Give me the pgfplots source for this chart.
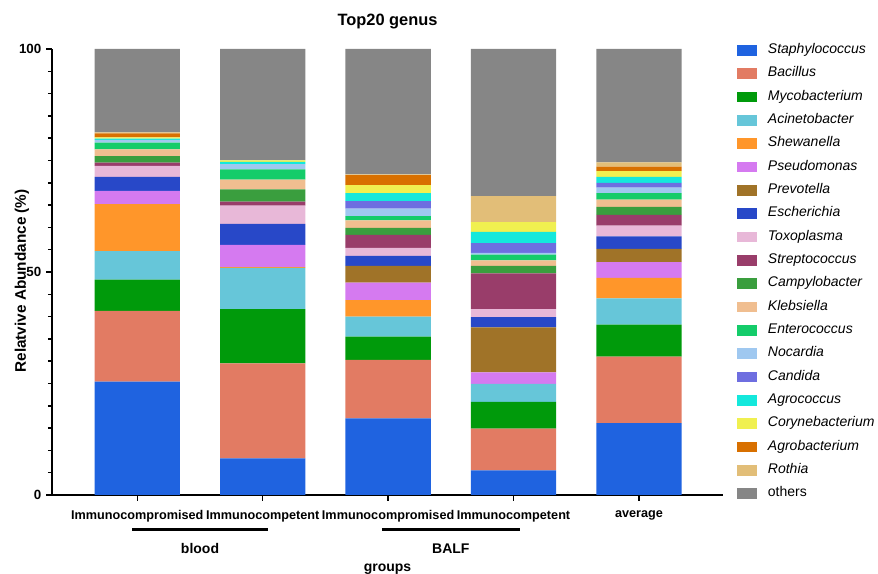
\documentclass[border=0pt]{standalone}
\usepackage{fontspec}
\setmainfont{Liberation Sans}
\usepackage{pgfplots}
\usepackage{pgfplotstable}
\pgfplotsset{compat=1.18}

\definecolor{cStaph}{HTML}{1F63E0}
\definecolor{cBac}{HTML}{E27B63}
\definecolor{cMyco}{HTML}{009A0B}
\definecolor{cAcin}{HTML}{66C6D9}
\definecolor{cShew}{HTML}{FF962A}
\definecolor{cPseu}{HTML}{D57AF0}
\definecolor{cPrev}{HTML}{A07328}
\definecolor{cEsch}{HTML}{2848C8}
\definecolor{cToxo}{HTML}{E8B8D8}
\definecolor{cStrep}{HTML}{993D6A}
\definecolor{cCampy}{HTML}{3A9E3E}
\definecolor{cKleb}{HTML}{F0BE90}
\definecolor{cEntero}{HTML}{14CC6A}
\definecolor{cNoca}{HTML}{9FC8F0}
\definecolor{cCand}{HTML}{6E6EE0}
\definecolor{cAgroc}{HTML}{14E8DC}
\definecolor{cCoryne}{HTML}{F0F050}
\definecolor{cAgrob}{HTML}{D87000}
\definecolor{cRoth}{HTML}{E2BE78}
\definecolor{cOthers}{HTML}{868686}

\pgfplotstableread{
x Staph Bac Myco Acin Shew Pseu Prev Esch Toxo Strep Campy Kleb Entero Noca Cand Agroc Coryne Agrob Roth others
0 25.4 15.9 7.0 6.4 10.5 3.0 0 3.1 2.5 0.7 1.5 1.5 1.5 0.6 0 0.3 0.3 0.9 0.2 18.7
1 8.2 21.3 12.2 9.2 0.2 5.0 0 4.7 4.1 0.9 2.7 2.2 2.3 1.2 0 0.5 0.3 0 0 25.0
2 17.2 13.1 5.2 4.5 3.7 3.9 3.8 2.2 1.8 2.9 1.6 1.7 0.9 1.7 1.7 1.8 1.8 2.2 0.2 28.1
3 5.5 9.4 6.0 4.0 0 2.6 10.1 2.3 1.8 8.0 1.7 1.2 1.3 0.4 2.2 2.5 2.2 0 5.8 33.0
4 16.1 14.9 7.2 5.9 4.6 3.5 3.0 2.8 2.4 2.4 1.8 1.6 1.5 1.2 1.1 1.3 1.3 1.0 1.0 25.4
}\data

\begin{document}
\begin{tikzpicture}
\useasboundingbox (-39pt,-59.25pt) rectangle (619.5pt,371.25pt);
\begin{axis}[
  at={(0,0)}, anchor=south west,
  scale only axis, width=503.25pt, height=334.5pt,
  ybar stacked, bar width=0.68,
  xmin=-0.68, xmax=4.67, ymin=0, ymax=100,
  axis x line*=bottom, axis y line*=left,
  axis line style={line width=1.1pt},
  xtick={0,1,2,3,4},
  xticklabels={Immunocompromised,Immunocompetent,Immunocompromised,Immunocompetent,average},
  ytick={0,50,100},
  minor ytick={5,10,15,20,25,30,35,40,45,55,60,65,70,75,80,85,90,95},
  tick align=outside,
  major tick length=4.5pt, minor tick length=3pt,
  major tick style={line width=1.1pt, black},
  minor tick style={line width=1.1pt, black},
  /pgf/number format/assume math mode=true,
  y tick label style={font=\fontsize{10}{12}\selectfont\bfseries},
  x tick label style={font=\fontsize{9.5}{11}\selectfont\bfseries, yshift=-3.5pt},
  title={Top20 genus},
  title style={at={(axis description cs:0.5,1)}, anchor=center, yshift=14.5pt, font=\fontsize{12.3}{14}\selectfont\bfseries},
  xlabel={groups},
  xlabel style={at={(axis description cs:0.5,0)}, anchor=center, yshift=-56pt, font=\fontsize{10.5}{12}\selectfont\bfseries},
  ylabel={Relatvive Abundance (\%)},
  ylabel style={at={(axis description cs:-0.0447,0.48)}, anchor=center, font=\fontsize{11.5}{13}\selectfont\bfseries},
  clip=false,
  legend image code/.code={\fill[#1] (0pt,-4pt) rectangle (15pt,4pt);},
  legend style={at={(1,1)}, anchor=north west, xshift=10.5pt, yshift=4.25pt,
    draw=none, fill=none, font=\fontsize{10.5}{12}\selectfont,
    cells={anchor=west}, row sep=7.5pt, column sep=8pt, inner sep=0pt,
    nodes={inner sep=0pt, text height=7.5pt, text depth=2.5pt}},
]
\addplot[fill=cStaph, draw=none] table[x=x,y=Staph]{\data}; \addlegendentry{\textit{Staphylococcus}}
\addplot[fill=cBac, draw=none] table[x=x,y=Bac]{\data}; \addlegendentry{\textit{Bacillus}}
\addplot[fill=cMyco, draw=none] table[x=x,y=Myco]{\data}; \addlegendentry{\textit{Mycobacterium}}
\addplot[fill=cAcin, draw=none] table[x=x,y=Acin]{\data}; \addlegendentry{\textit{Acinetobacter}}
\addplot[fill=cShew, draw=none] table[x=x,y=Shew]{\data}; \addlegendentry{\textit{Shewanella}}
\addplot[fill=cPseu, draw=none] table[x=x,y=Pseu]{\data}; \addlegendentry{\textit{Pseudomonas}}
\addplot[fill=cPrev, draw=none] table[x=x,y=Prev]{\data}; \addlegendentry{\textit{Prevotella}}
\addplot[fill=cEsch, draw=none] table[x=x,y=Esch]{\data}; \addlegendentry{\textit{Escherichia}}
\addplot[fill=cToxo, draw=none] table[x=x,y=Toxo]{\data}; \addlegendentry{\textit{Toxoplasma}}
\addplot[fill=cStrep, draw=none] table[x=x,y=Strep]{\data}; \addlegendentry{\textit{Streptococcus}}
\addplot[fill=cCampy, draw=none] table[x=x,y=Campy]{\data}; \addlegendentry{\textit{Campylobacter}}
\addplot[fill=cKleb, draw=none] table[x=x,y=Kleb]{\data}; \addlegendentry{\textit{Klebsiella}}
\addplot[fill=cEntero, draw=none] table[x=x,y=Entero]{\data}; \addlegendentry{\textit{Enterococcus}}
\addplot[fill=cNoca, draw=none] table[x=x,y=Noca]{\data}; \addlegendentry{\textit{Nocardia}}
\addplot[fill=cCand, draw=none] table[x=x,y=Cand]{\data}; \addlegendentry{\textit{Candida}}
\addplot[fill=cAgroc, draw=none] table[x=x,y=Agroc]{\data}; \addlegendentry{\textit{Agrococcus}}
\addplot[fill=cCoryne, draw=none] table[x=x,y=Coryne]{\data}; \addlegendentry{\textit{Corynebacterium}}
\addplot[fill=cAgrob, draw=none] table[x=x,y=Agrob]{\data}; \addlegendentry{\textit{Agrobacterium}}
\addplot[fill=cRoth, draw=none] table[x=x,y=Roth]{\data}; \addlegendentry{\textit{Rothia}}
\addplot[fill=cOthers, draw=none] table[x=x,y=others]{\data}; \addlegendentry{others}

\draw[line width=2.2pt] ([yshift=-26pt]axis cs:-0.04,0) -- ([yshift=-26pt]axis cs:1.04,0);
\draw[line width=2.2pt] ([yshift=-26pt]axis cs:1.95,0) -- ([yshift=-26pt]axis cs:3.05,0);
\node[font=\fontsize{10.5}{12}\selectfont\bfseries] at ([yshift=-40pt]axis cs:0.5,0) {blood};
\node[font=\fontsize{10.5}{12}\selectfont\bfseries] at ([yshift=-40pt]axis cs:2.5,0) {BALF};
\end{axis}
\end{tikzpicture}
\end{document}
